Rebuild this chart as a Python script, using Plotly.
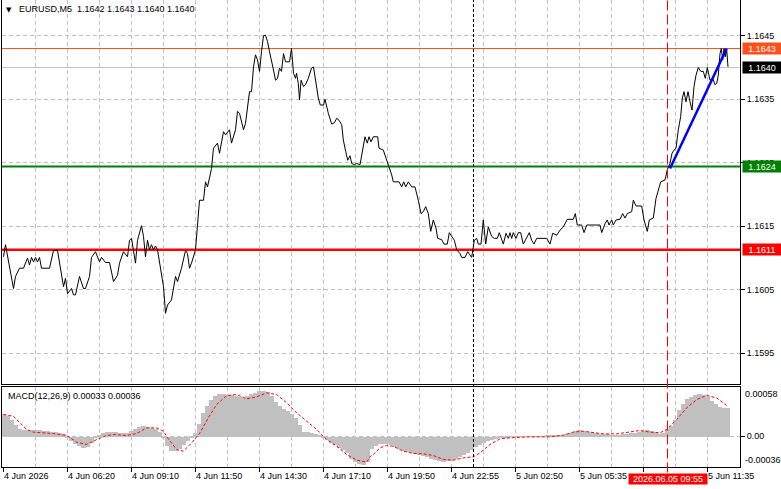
import plotly.graph_objects as go

# ---------------- data ----------------
bars = [
    0, 1, 5, 6, 8, 10, 12, 13, 14, 15,
    16, 17, 18, 19, 23, 25, 27, 29, 30, 31,
    32, 34, 35, 36, 38, 40, 41, 43, 44, 46,
    48, 49, 51, 53, 55, 57, 58, 60, 62, 63,
    64, 66, 67, 69, 70, 71, 72, 73, 74, 75,
    76, 77, 79, 80, 81, 82, 84, 86, 87, 89,
    91, 92, 93, 94, 96, 97, 98, 100, 101, 102,
    104, 105, 107, 108, 110, 111, 113, 114, 116, 117,
    118, 120, 121, 123, 124, 125, 126, 127, 128, 129,
    130, 131, 132, 133, 134, 135, 136, 137, 138, 139,
    140, 141, 143, 144, 145, 146, 146.5, 147.4, 148, 148.8,
    150, 151, 152.4, 154, 155, 156, 157.4, 158.4, 160, 160.75,
    162.4, 164.1, 165.4, 166.6, 167.75, 169.1, 169.9, 171.1, 172.1, 173.25,
    174.1, 175.4, 176.6, 178.25, 179.4, 180.75, 181.9, 182.75, 183.75, 184.9,
    187.1, 187.75, 189.9, 191.6, 192.75, 194.1, 194.9, 197.75, 199.1, 200.1,
    201.1, 202.4, 204.1, 205.75, 207.4, 208.75, 209.9, 211.1, 212.4, 213.6,
    214.9, 216.25, 217.1, 219.1, 220.25, 221.9, 222.9, 224.1, 225.4, 226.6,
    228.25, 229.1, 230.75, 232.1, 233.25, 234.1, 235.4, 236.6, 237.4, 238.75,
    239.9, 241.1, 242.4, 244.1, 245.4, 246.9, 247.9, 249.9, 251.25, 252.4,
    253.25, 254.1, 254.9, 256.25, 257.4, 258.6, 259.9, 261.25, 262.9, 264.1,
    265.25, 266.6, 271.6, 273.25, 274.6, 276.6, 278.25, 279.9, 281.9, 284.9,
    285.9, 286.9, 289.1, 290.25, 291.6, 298.25, 299.1, 300.75, 301.9, 302.75,
    304.1, 304.9, 306.25, 308.25, 309.6, 310.75, 311.9, 314.1, 314.9, 316.25,
    319.1, 320.25, 321.9, 322.9, 324.9, 326.25, 327.4, 328.6, 330.75, 331.9,
    333.25, 334.25, 335.25, 336.25, 337.4, 338.6, 339.4, 340.25, 341.25, 342.25,
    343.25, 344.25, 345.25, 346.25, 347.4, 348.6, 349.9, 350.9, 351.9, 353.25,
    354.6, 355.75, 356.6, 357.4, 358.25, 358.9, 359.6, 360.25, 360.9, 361.6,
    362.25,
]

close = [
    1.16102, 1.16121, 1.16052, 1.16071, 1.16084, 1.16084, 1.16100, 1.16089, 1.16101, 1.16094,
    1.16101, 1.16094, 1.16101, 1.16084, 1.16084, 1.16112, 1.16112, 1.16071, 1.16055, 1.16068,
    1.16044, 1.16052, 1.16042, 1.16042, 1.16071, 1.16052, 1.16052, 1.16071, 1.16101, 1.16110,
    1.16094, 1.16101, 1.16093, 1.16093, 1.16063, 1.16073, 1.16092, 1.16110, 1.16102, 1.16128,
    1.16131, 1.16092, 1.16128, 1.16151, 1.16134, 1.16102, 1.16128, 1.16113, 1.16121, 1.16113,
    1.16119, 1.16113, 1.16073, 1.16055, 1.16013, 1.16026, 1.16034, 1.16071, 1.16063, 1.16084,
    1.16112, 1.16107, 1.16084, 1.16092, 1.16113, 1.16149, 1.16191, 1.16191, 1.16220, 1.16212,
    1.16241, 1.16273, 1.16281, 1.16265, 1.16299, 1.16294, 1.16302, 1.16281, 1.16302, 1.16331,
    1.16328, 1.16302, 1.16312, 1.16362, 1.16362, 1.16401, 1.16420, 1.16412, 1.16394, 1.16425,
    1.16450, 1.16451, 1.16441, 1.16425, 1.16412, 1.16396, 1.16380, 1.16383, 1.16399, 1.16394,
    1.16422, 1.16409, 1.16409, 1.16430, 1.16391, 1.16383, 1.16391, 1.16375, 1.16349, 1.16380,
    1.16370, 1.16373, 1.16383, 1.16399, 1.16401, 1.16383, 1.16352, 1.16341, 1.16341, 1.16350,
    1.16328, 1.16311, 1.16313, 1.16320, 1.16317, 1.16310, 1.16286, 1.16268, 1.16254, 1.16261,
    1.16249, 1.16247, 1.16249, 1.16247, 1.16265, 1.16291, 1.16281, 1.16291, 1.16283, 1.16291,
    1.16291, 1.16273, 1.16270, 1.16254, 1.16244, 1.16231, 1.16220, 1.16220, 1.16212, 1.16220,
    1.16212, 1.16220, 1.16212, 1.16212, 1.16191, 1.16170, 1.16173, 1.16181, 1.16170, 1.16142,
    1.16160, 1.16147, 1.16131, 1.16129, 1.16122, 1.16122, 1.16140, 1.16134, 1.16128, 1.16113,
    1.16107, 1.16101, 1.16101, 1.16110, 1.16105, 1.16101, 1.16128, 1.16131, 1.16122, 1.16122,
    1.16160, 1.16122, 1.16149, 1.16134, 1.16131, 1.16131, 1.16140, 1.16122, 1.16139, 1.16131,
    1.16140, 1.16131, 1.16140, 1.16131, 1.16140, 1.16140, 1.16122, 1.16131, 1.16140, 1.16128,
    1.16122, 1.16131, 1.16131, 1.16122, 1.16139, 1.16136, 1.16144, 1.16149, 1.16161, 1.16161,
    1.16170, 1.16152, 1.16152, 1.16140, 1.16152, 1.16152, 1.16140, 1.16154, 1.16160, 1.16152,
    1.16160, 1.16152, 1.16160, 1.16161, 1.16170, 1.16163, 1.16170, 1.16173, 1.16191, 1.16182,
    1.16182, 1.16160, 1.16142, 1.16160, 1.16163, 1.16194, 1.16207, 1.16220, 1.16223, 1.16239,
    1.16249, 1.16265, 1.16270, 1.16273, 1.16302, 1.16323, 1.16352, 1.16362, 1.16346, 1.16362,
    1.16346, 1.16333, 1.16370, 1.16388, 1.16400, 1.16394, 1.16394, 1.16383, 1.16400, 1.16380,
    1.16383, 1.16373, 1.16375, 1.16388, 1.16422, 1.16430, 1.16412, 1.16430, 1.16417, 1.16428,
    1.16401,
]

# MACD histogram (one value per 2 bars)
hist_bars = list(range(0, 363, 2))
hist = [
    0.000262, 0.000240, 0.000195, 0.000135, 0.000085, 0.000079, 0.000078, 0.000076, 0.000075, 0.000073,
    0.000070, 0.000065, 0.000057, 0.000050, 0.000040, 0.000026, -0.000005, -0.000045, -0.000083, -0.000107,
    -0.000130, -0.000125, -0.000070, -0.000020, 0.000017, 0.000041, 0.000053, 0.000060, 0.000053, 0.000048,
    0.000040, 0.000048, 0.000065, 0.000087, 0.000110, 0.000129, 0.000117, 0.000105, 0.000085, 0.000050,
    -0.000020, -0.000110, -0.000165, -0.000165, -0.000145, -0.000095, -0.000045, -0.000015, 0.000040, 0.000150,
    0.000280, 0.000360, 0.000430, 0.000470, 0.000493, 0.000495, 0.000492, 0.000485, 0.000475, 0.000460,
    0.000450, 0.000470, 0.000495, 0.000515, 0.000530, 0.000535, 0.000523, 0.000470, 0.000410, 0.000360,
    0.000320, 0.000295, 0.000270, 0.000215, 0.000140, 0.000060, 0.000050, 0.000040, 0.000030, 0.000020,
    -0.000005, -0.000035, -0.000070, -0.000100, -0.000130, -0.000160, -0.000195, -0.000255, -0.000290, -0.000315,
    -0.000330, -0.000290, -0.000140, -0.000110, -0.000090, -0.000080, -0.000085, -0.000095, -0.000120, -0.000145,
    -0.000170, -0.000180, -0.000190, -0.000200, -0.000215, -0.000225, -0.000240, -0.000260, -0.000270, -0.000280,
    -0.000290, -0.000285, -0.000280, -0.000265, -0.000235, -0.000210, -0.000185, -0.000155, -0.000120, -0.000095,
    -0.000070, -0.000050, -0.000035, -0.000025, -0.000013, -0.000008, -0.000005, -0.000003, -0.000001, 0.000001,
    0.000002, 0.000003, 0.000004, 0.000005, 0.000006, 0.000007, 0.000008, 0.000008, 0.000009, 0.000010,
    0.000018, 0.000030, 0.000048, 0.000070, 0.000078, 0.000072, 0.000060, 0.000050, 0.000040, 0.000035,
    0.000030, 0.000028, 0.000023, 0.000020, 0.000024, 0.000029, 0.000032, 0.000038, 0.000046, 0.000060,
    0.000068, 0.000077, 0.000070, 0.000060, 0.000035, 0.000045, 0.000085, 0.000125, 0.000200, 0.000310,
    0.000380, 0.000435, 0.000465, 0.000488, 0.000503, 0.000490, 0.000460, 0.000420, 0.000380, 0.000345,
    0.000335, 0.000330,
]

# MACD signal line
sig_bars = [
    0, 4.9, 8.25, 11.6, 14.9, 19.9, 24.9, 31.6, 36.6, 41.6,
    46.6, 51.6, 55.75, 61.6, 66.6, 71.6, 76.6, 79.9, 83.25, 86.6,
    89.9, 94.1, 98.25, 102.4, 106.6, 111.6, 116.6, 121.6, 126.6, 131.6,
    136.6, 141.6, 146.6, 151.6, 156.6, 161.6, 166.6, 171.6, 176.6, 181.6,
    183.25, 184.9, 188.25, 191.6, 194.9, 199.9, 204.9, 209.9, 214.9, 219.9,
    224.9, 229.9, 234.9, 238.25, 243.25, 248.25, 253.25, 263.25, 273.25, 279.9,
    284.9, 289.9, 299.9, 306.6, 313.25, 318.25, 323.25, 328.25, 331.6, 336.6,
    341.6, 346.6, 351.6, 356.6, 361.6,
]
signal = [
    0.000253, 0.000233, 0.000156, 0.000078, 0.000047, 0.000039, 0.000031, 0.000008, -0.000070, -0.000097,
    -0.000039, 0.000008, 0.000019, 0.000008, 0.000031, 0.000097, 0.000097, 0.000058, -0.000058, -0.000156,
    -0.000175, -0.000078, 0.000039, 0.000214, 0.000370, 0.000475, 0.000486, 0.000436, 0.000459, 0.000506,
    0.000486, 0.000389, 0.000272, 0.000175, 0.000078, -0.000039, -0.000117, -0.000214, -0.000280, -0.000303,
    -0.000240, -0.000214, -0.000136, -0.000109, -0.000117, -0.000175, -0.000202, -0.000206, -0.000226, -0.000272,
    -0.000280, -0.000253, -0.000241, -0.000195, -0.000097, -0.000031, -0.000019, -0.000008, -0.000008, 0.000012,
    0.000047, 0.000058, 0.000027, 0.000027, 0.000051, 0.000066, 0.000047, 0.000039, 0.000078, 0.000195,
    0.000330, 0.000428, 0.000475, 0.000447, 0.000358,
]

# trend line (blue)
trend_bars = [333.25, 361.6]
trend_price = [1.16241, 1.16430]

# horizontal levels
level_prices = [1.16430, 1.16400, 1.16244, 1.16113]
level_colors = ["#ff4f1a", "#c0c0c0", "#008000", "#ff0000"]
label_bg = ["#ff4f1a", "#000000", "#008000", "#ff0000"]
level_widths = [1, 1, 2, 2.5]

price_ticks = [1.1595, 1.1605, 1.1615, 1.1625, 1.1635, 1.1645]
grid_bars = list(range(16, 369, 16))
time_bars = [0, 32, 64, 96, 128, 160, 192, 224, 256, 288, 320, 352]
time_labels = ["4 Jun 2026", "4 Jun 06:20", "4 Jun 09:10", "4 Jun 11:50", "4 Jun 14:30",
               "4 Jun 17:10", "4 Jun 19:50", "4 Jun 22:55", "5 Jun 02:50", "5 Jun 05:35",
               "", "5 Jun 11:35"]
separator_bar = 235
cursor_bar = 332
cursor_label = "2026.06.05 09:55"
macd_max, macd_min = 0.00058, -0.00036
title_text = "EURUSD,M5\u00a0\u00a01.1642 1.1643 1.1640 1.1640"
macd_text = "MACD(12,26,9) 0.00033 0.00036"

FONT = "Liberation Sans"
GRID = "#c0c0c0"
XR = [-0.75, 368.25]

fig = go.Figure()
fig.add_trace(go.Scatter(x=bars, y=close, mode="lines", line=dict(color="black", width=1),
                         xaxis="x", yaxis="y", hoverinfo="skip"))
fig.add_trace(go.Scatter(x=trend_bars, y=trend_price, mode="lines", line=dict(color="#0000ff", width=2.5),
                         xaxis="x", yaxis="y", hoverinfo="skip"))
fig.add_trace(go.Bar(x=hist_bars, y=hist, width=2.3, marker=dict(color="#c0c0c0", line=dict(width=0)),
                     xaxis="x2", yaxis="y2", hoverinfo="skip"))
fig.add_trace(go.Scatter(x=sig_bars, y=signal, mode="lines", line=dict(color="#ff0000", width=1, dash="3px,2px"),
                         xaxis="x2", yaxis="y2", hoverinfo="skip"))
# invisible trace for the tick-only overlay axis
fig.add_trace(go.Scatter(x=[XR[0]], y=[0], mode="markers", marker=dict(opacity=0),
                         xaxis="x3", yaxis="y2", hoverinfo="skip"))

H = 467.0
main_dom = [1 - 384 / H, 1]
macd_dom = [0, (H - 386.5) / H]

shapes = []
for p, c, w in zip(level_prices, level_colors, level_widths):
    shapes.append(dict(type="line", xref="paper", x0=0, x1=1, yref="y", y0=p, y1=p,
                       line=dict(color=c, width=w), layer="below"))
shapes.append(dict(type="line", xref="x", x0=separator_bar, x1=separator_bar, yref="paper", y0=0, y1=1,
                   line=dict(color="black", width=1, dash="3px,2px")))
shapes.append(dict(type="line", xref="x", x0=cursor_bar, x1=cursor_bar, yref="paper", y0=-5.5 / H, y1=1,
                   line=dict(color="#ff0000", width=1, dash="10px,4px")))

annotations = []
for p, bg in zip(level_prices, label_bg):
    annotations.append(dict(xref="paper", x=1, xanchor="left", xshift=2, yref="y", y=p, yanchor="middle",
                            text=f"{p:.4f}", showarrow=False, bgcolor=bg, width=38, height=11,
                            borderpad=0, align="center", font=dict(family=FONT, size=9, color="white")))
annotations.append(dict(xref="paper", x=1, xanchor="left", xshift=3, yref="y2", y=macd_max, yanchor="top",
                        text=f"{macd_max:.5f}", showarrow=False, font=dict(family=FONT, size=9, color="black")))
annotations.append(dict(xref="paper", x=1, xanchor="left", xshift=3, yref="y2", y=macd_min, yanchor="bottom",
                        text=f"{macd_min:.5f}", showarrow=False, font=dict(family=FONT, size=9, color="black")))
annotations.append(dict(xref="x", x=cursor_bar, xanchor="center", yref="paper", y=0, yanchor="top", yshift=-5.5,
                        text=cursor_label, showarrow=False, bgcolor="#ff0000", width=78, height=10,
                        borderpad=0, font=dict(family=FONT, size=9, color="white")))
annotations.append(dict(xref="paper", x=0, xanchor="left", xshift=16, yref="paper", y=1, yanchor="top", yshift=-3,
                        text=title_text, showarrow=False, borderpad=0,
                        font=dict(family=FONT, size=9, color="black")))
annotations.append(dict(xref="paper", x=0, xanchor="left", xshift=3, yref="paper", y=1, yanchor="top", yshift=-5,
                        text="\u25bc", showarrow=False, borderpad=0,
                        font=dict(family="DejaVu Sans", size=7, color="black")))
annotations.append(dict(xref="paper", x=0, xanchor="left", xshift=5, yref="y2", y=macd_max, yanchor="top", yshift=-3,
                        text=macd_text, showarrow=False, borderpad=0,
                        font=dict(family=FONT, size=9, color="black")))

fig.update_layout(
    width=781, height=489,
    margin=dict(l=2, r=41, t=0, b=22),
    paper_bgcolor="white", plot_bgcolor="white",
    showlegend=False, bargap=0,
    font=dict(family=FONT, size=9, color="black"),
    shapes=shapes, annotations=annotations,
    xaxis=dict(domain=[0, 1], anchor="y", range=XR, tickvals=grid_bars, showticklabels=False, ticks="",
               showgrid=True, gridcolor=GRID, griddash="4px,3px", gridwidth=1, zeroline=False,
               showline=True, linecolor="black", linewidth=1),
    yaxis=dict(domain=main_dom, anchor="x", side="right", range=[1.1590165, 1.1650638],
               tickvals=price_ticks, ticktext=[f"{v:.4f}" for v in price_ticks],
               ticks="outside", ticklen=4, tickcolor="black", showline=True, mirror=True,
               linecolor="black", linewidth=1, showgrid=True, gridcolor=GRID, griddash="4px,3px",
               zeroline=False, tickfont=dict(family=FONT, size=9)),
    xaxis2=dict(domain=[0, 1], anchor="y2", range=XR, tickvals=grid_bars, showticklabels=False, ticks="",
                showgrid=True, gridcolor=GRID, griddash="4px,3px", zeroline=False,
                showline=True, mirror=True, linecolor="black", linewidth=1),
    xaxis3=dict(overlaying="x2", anchor="y2", side="bottom", range=XR, tickvals=time_bars, ticktext=time_labels,
                ticks="outside", ticklen=4, tickcolor="black", ticklabelposition="outside right",
                showgrid=False, zeroline=False, showline=False, tickfont=dict(family=FONT, size=9)),
    yaxis2=dict(domain=macd_dom, anchor="x2", side="right", range=[macd_min, macd_max],
                tickvals=[0], ticktext=["0.00"], ticks="outside", ticklen=4, tickcolor="black",
                showline=True, mirror=True, linecolor="black", linewidth=1,
                showgrid=True, gridcolor=GRID, griddash="4px,3px", zeroline=False,
                tickfont=dict(family=FONT, size=9)),
)

fig.write_html("out.html")
